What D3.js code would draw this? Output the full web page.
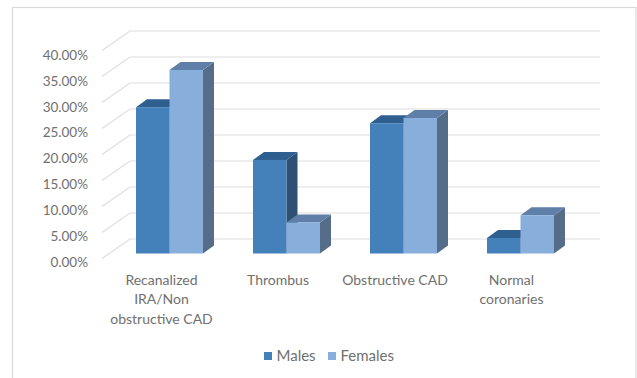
<!DOCTYPE html>
<html>
<head>
<meta charset="utf-8">
<script src="https://cdn.jsdelivr.net/npm/d3@7"></script>
<style>
html, body { margin: 0; padding: 0; background: #fff; }
text { font-family: Lato, "Open Sans", sans-serif; fill: #707070; }
</style>
</head>
<body>
<svg id="chart" width="637" height="378"></svg>
<script>
const categories = [["Recanalized", "IRA/Non", "obstructive CAD"], ["Thrombus"], ["Obstructive CAD"], ["Normal", "coronaries"]];
const seriesNames = ["Males", "Females"];
const males = [28.3, 18.1, 25.2, 3.0];
const females = [35.5, 6.0, 26.2, 7.4];
const tickValues = [0, 5, 10, 15, 20, 25, 30, 35, 40];
const fronts = ["#4480b9", "#88aedc"];
const tops = ["#2f5f8f", "#5f7fa8"];
const sides = ["#2e5173", "#566d8a"];

const svg = d3.select("#chart");
const depthX = 11, depthY = 8;

// Chart frame; its lower edge runs off the page
svg.append("rect").attr("x", 12.5).attr("y", 7.5).attr("width", 623.5).attr("height", 380)
  .attr("fill", "#fff").attr("stroke", "#d9d9d9").attr("stroke-width", 1.2);

const y = d3.scaleLinear().domain([0, 40]).range([253.5, 46.7]);
const wallY = d3.scaleLinear().domain([0, 40]).range([239, 31]);
const x = d3.scaleBand().domain(d3.range(categories.length)).range([111, 579]).paddingInner(0).paddingOuter(0);
const inner = d3.scaleBand().domain([0, 1]).range([0, 67]);
const groupX = i => x(i) + x.bandwidth() / 2 - 33.5;

// Back wall gridlines plus their diagonal run along the side wall
const grid = svg.append("g").attr("fill", "none").attr("stroke", "#dedede").attr("stroke-width", 1.2);
tickValues.forEach(t => {
  grid.append("path").attr("d", d3.line()([[102, wallY(t) + 19.5], [130, wallY(t)], [600, wallY(t)]]));
});

// Y axis labels, with the axis line hidden
const yAxis = d3.axisLeft(d3.scaleLinear().domain([0, 40]).range([262, 55]))
  .tickValues(tickValues).tickSize(0).tickPadding(0).tickFormat(d => d.toFixed(2) + "%");
const yg = svg.append("g").attr("transform", "translate(88,0)").call(yAxis);
yg.select(".domain").remove();
yg.selectAll("text").style("font-size", "13.5px").style("font-family", "Lato").style("fill", "#707070");

// Three-faced bars: side and top first, then the front face
categories.forEach((_, i) => {
  [males, females].forEach((vals, s) => {
    const x0 = groupX(i) + inner(s), x1 = x0 + inner.bandwidth(), yt = y(vals[i]), yb = y(0);
    const line = d3.line();
    svg.append("path").attr("fill", sides[s])
      .attr("d", line([[x1, yt], [x1 + depthX, yt - depthY], [x1 + depthX, yb - depthY], [x1, yb]]) + "Z");
    svg.append("path").attr("fill", tops[s])
      .attr("d", line([[x0, yt], [x0 + depthX, yt - depthY], [x1 + depthX, yt - depthY], [x1, yt]]) + "Z");
    svg.append("rect").attr("x", x0).attr("y", yt).attr("width", x1 - x0).attr("height", yb - yt).attr("fill", fronts[s]);
  });
});

// Category labels, wrapped over several lines
const labelX = [161.5, 278, 395, 511.5];
categories.forEach((lines, i) => {
  const t = svg.append("text").attr("text-anchor", "middle").style("font-size", "14px");
  lines.forEach((l, k) => t.append("tspan").attr("x", labelX[i]).attr("y", 285 + k * 19.3).text(l));
});

// Legend
const legendX = [264, 328];
seriesNames.forEach((n, i) => {
  svg.append("rect").attr("x", legendX[i]).attr("y", 352).attr("width", 8).attr("height", 8).attr("fill", fronts[i]);
  svg.append("text").attr("x", legendX[i] + 12.5).attr("y", 361).style("font-size", "15px").text(n);
});
</script>
</body>
</html>
